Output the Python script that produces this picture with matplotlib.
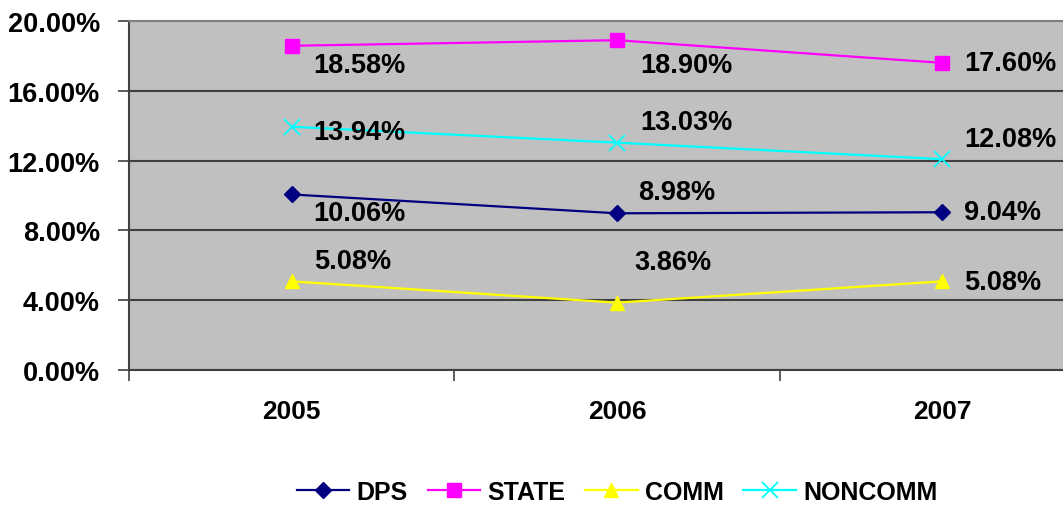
import matplotlib
matplotlib.use("Agg")
import matplotlib.pyplot as plt
from matplotlib.ticker import FixedLocator

years = ["2005", "2006", "2007"]
dps = [10.06, 8.98, 9.04]
state = [18.58, 18.90, 17.60]
comm = [5.08, 3.86, 5.08]
noncomm = [13.94, 13.03, 12.08]
yticks = [0, 4, 8, 12, 16, 20]

plt.rcParams['font.family'] = ['Liberation Sans', 'DejaVu Sans']
plt.rcParams['font.weight'] = 'bold'

W, H = 1063, 506
fig = plt.figure(figsize=(W / 100, H / 100), dpi=100)
L, R, T, B = 129, 1105, 22, 371
ax = fig.add_axes([L / W, (H - B) / H, (R - L) / W, (B - T) / H])
ax.set_facecolor('#C0C0C0')

x = list(range(len(years)))
series = [
    ("DPS", dps, '#000080', 'D', 8, 1.6),
    ("STATE", state, '#FF00FF', 's', 10, 1.6),
    ("COMM", comm, '#FFFF00', '^', 10, 1.6),
    ("NONCOMM", noncomm, '#00FFFF', 'x', 11, 1.6),
]
# label offsets in pixels (dx, dy) from each point
offsets = {
    "DPS": [(22, -19), (21, 21), (22, 0)],
    "STATE": [(22, -19), (23, -25), (22, 0)],
    "COMM": [(22, 20), (17, 41), (22, -1)],
    "NONCOMM": [(22, -5), (23, 21), (22, 20)],
}

for name, vals, col, mk, ms, lw in series:
    ax.plot(x, vals, color=col, marker=mk, markersize=ms, lw=lw,
            markeredgecolor=col, markeredgewidth=1.3 if mk == 'x' else 1,
            label=name, zorder=3, clip_on=False)
    for xi, v, (dx, dy) in zip(x, vals, offsets[name]):
        ax.annotate(f"{v:.2f}%", (xi, v), xytext=(dx, dy), textcoords='offset pixels',
                    ha='left', va='center', fontsize=19.5, fontweight='bold', color='black', zorder=4)

ax.set_xlim(-0.5, 2.5)
ax.set_ylim(0, 20)
ax.set_yticks(yticks)
ax.set_yticklabels([f"{t:.2f}%" for t in yticks], fontsize=19.5, fontweight='bold')
ax.set_xticks(x)
ax.set_xticklabels(years, fontsize=19, fontweight='bold')
ax.xaxis.set_minor_locator(FixedLocator([-0.5, 0.5, 1.5, 2.5]))
ax.tick_params(axis='x', which='major', length=0, pad=21)
ax.tick_params(axis='x', which='minor', length=8, width=1.2, color='#404040', direction='out')
ax.tick_params(axis='y', length=8, width=1.2, color='#404040', pad=13)
ax.grid(axis='y', color='#404040', lw=1.5, zorder=1)
ax.set_axisbelow(True)
for s in ['left', 'bottom']:
    ax.spines[s].set_color('#404040')
    ax.spines[s].set_linewidth(1.5)
ax.spines['top'].set_color('#808080')
ax.spines['top'].set_linewidth(1.5)
ax.spines['right'].set_visible(False)

fig.legend(loc='center', bbox_to_anchor=(617 / W, 1 - 493 / H), ncol=4, frameon=False,
           prop={'size': 18, 'weight': 'bold'}, handlelength=2.1, handletextpad=0.28,
           columnspacing=0.8, borderpad=0, borderaxespad=0)

fig.savefig('out.png', dpi=100)
